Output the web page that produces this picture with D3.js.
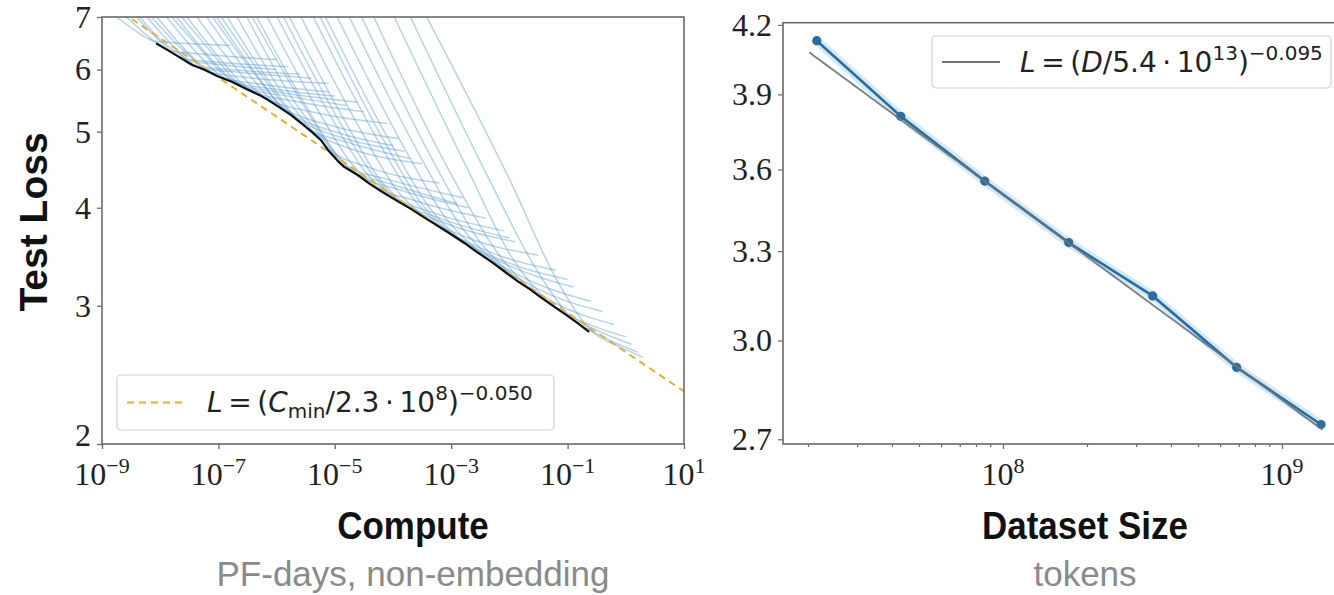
<!DOCTYPE html>
<html>
<head>
<meta charset="utf-8">
<script src="https://cdn.jsdelivr.net/npm/d3@7"></script>
<style>
  html, body { margin: 0; padding: 0; background: #fff; }
  svg { display: block; }
</style>
</head>
<body>
<svg id="chart" width="1334" height="595"></svg>
<script>
// ---------------- data: compute panel ----------------
const computeTickExps = [-9, -7, -5, -3, -1, 1];
const lossTicksLeft = [2, 3, 4, 5, 6, 7];

// lower envelope of all runs (log10 PF-days, test loss)
const frontierLogC = [-8.07, -7.9, -7.7, -7.45, -7.25, -7.0, -6.77, -6.5, -6.3, -6.15, -5.95, -5.75,
  -5.54, -5.4, -5.24, -5.1, -4.95, -4.84, -4.6, -4.4, -4.16, -3.9, -3.7, -3.54, -3.3, -3.05,
  -2.78, -2.55, -2.3, -2.09, -1.85, -1.65, -1.47, -1.25, -1.05, -0.85, -0.63];
const frontierLoss = [6.48, 6.37, 6.24, 6.08, 6.0, 5.88, 5.79, 5.66, 5.57, 5.49, 5.37, 5.25,
  5.10, 5.0, 4.88, 4.72, 4.59, 4.51, 4.40, 4.29, 4.18, 4.07, 3.99, 3.92, 3.82, 3.72,
  3.61, 3.51, 3.41, 3.32, 3.22, 3.15, 3.08, 3.0, 2.93, 2.86, 2.78];

// individual training runs: [log10 PF-days, test loss]
const runs = [
  [[-8.75, 7.0], [-8.425, 6.72], [-8.23, 6.58], [-8.1, 6.52], [-7.6, 6.48], [-6.8, 6.44]],
  [[-8.58, 7.0], [-8.215, 6.62], [-7.99, 6.43], [-7.85, 6.35], [-7.3, 6.28], [-6.0, 6.18]],
  [[-8.41, 7.0], [-8.005, 6.52], [-7.76, 6.29], [-7.6, 6.20], [-7.0, 6.13], [-5.8, 6.05]],
  [[-8.35, 7.0], [-7.95, 6.5], [-7.7, 6.3], [-7.5, 6.16], [-6.9, 6.08], [-6.0, 6.0]],
  [[-8.23, 7.0], [-7.79, 6.44], [-7.53, 6.17], [-7.35, 6.06], [-6.7, 5.99], [-5.6, 5.92]],
  [[-8.15, 7.0], [-7.7, 6.45], [-7.45, 6.2], [-7.25, 6.02], [-6.6, 5.95], [-5.4, 5.85]],
  [[-8.06, 7.0], [-7.58, 6.37], [-7.29, 6.07], [-7.1, 5.95], [-6.5, 5.86], [-5.1, 5.76]],
  [[-7.89, 7.0], [-7.37, 6.30], [-7.06, 5.97], [-6.85, 5.84], [-6.2, 5.74], [-5.1, 5.62]],
  [[-7.8, 7.0], [-7.25, 6.3], [-6.95, 5.95], [-6.7, 5.78], [-6.0, 5.66], [-5.0, 5.55]],
  [[-7.72, 7.0], [-7.16, 6.23], [-6.82, 5.87], [-6.6, 5.73], [-6.0, 5.62], [-4.6, 5.45]],
  [[-7.63, 7.0], [-7.05, 6.22], [-6.72, 5.82], [-6.48, 5.67], [-5.8, 5.55], [-4.8, 5.4]],
  [[-7.54, 7.0], [-6.945, 6.16], [-6.59, 5.76], [-6.35, 5.61], [-5.7, 5.47], [-4.5, 5.30]],
  [[-7.37, 7.0], [-6.735, 6.07], [-6.35, 5.64], [-6.1, 5.48], [-5.4, 5.30], [-4.1, 5.12]],
  [[-7.20, 7.0], [-6.525, 5.98], [-6.12, 5.52], [-5.85, 5.34], [-5.1, 5.10], [-3.9, 4.90]],
  [[-7.1, 7.0], [-6.4, 5.95], [-5.95, 5.42], [-5.7, 5.24], [-5.0, 5.0], [-4.0, 4.8]],
  [[-7.03, 7.0], [-6.315, 5.87], [-5.89, 5.35], [-5.6, 5.16], [-4.9, 4.92], [-3.8, 4.72]],
  [[-6.95, 7.0], [-6.2, 5.82], [-5.78, 5.3], [-5.48, 5.06], [-4.8, 4.85], [-3.7, 4.62]],
  [[-6.85, 7.0], [-6.10, 5.75], [-5.65, 5.19], [-5.35, 4.98], [-4.7, 4.75], [-3.5, 4.55]],
  [[-6.68, 7.0], [-5.89, 5.59], [-5.42, 5.05], [-5.1, 4.75], [-4.4, 4.50], [-3.2, 4.30]],
  [[-6.51, 7.0], [-5.68, 5.44], [-5.18, 4.87], [-4.85, 4.53], [-4.1, 4.35], [-2.8, 4.12]],
  [[-6.42, 7.0], [-5.55, 5.42], [-5.05, 4.75], [-4.75, 4.48], [-4.0, 4.28], [-2.9, 4.05]],
  [[-6.34, 7.0], [-5.47, 5.35], [-4.95, 4.66], [-4.6, 4.41], [-3.9, 4.22], [-2.7, 4.00]],
  [[-6.16, 7.0], [-5.255, 5.27], [-4.71, 4.55], [-4.35, 4.29], [-3.6, 4.08], [-2.4, 3.88]],
  [[-5.99, 7.0], [-5.045, 5.19], [-4.48, 4.45], [-4.1, 4.18], [-3.3, 3.94], [-2.1, 3.74]],
  [[-5.88, 7.0], [-4.9, 5.12], [-4.32, 4.38], [-3.95, 4.11], [-3.2, 3.88], [-2.0, 3.66]],
  [[-5.78, 7.0], [-4.79, 5.10], [-4.2, 4.32], [-3.8, 4.05], [-3.0, 3.80], [-1.9, 3.62]],
  [[-5.58, 7.0], [-4.54, 5.00], [-3.92, 4.20], [-3.5, 3.92], [-2.7, 3.66], [-1.5, 3.48]],
  [[-5.37, 7.0], [-4.285, 4.91], [-3.63, 4.09], [-3.2, 3.80], [-2.4, 3.53], [-1.2, 3.33]],
  [[-5.25, 7.0], [-4.15, 4.86], [-3.48, 4.02], [-3.05, 3.74], [-2.25, 3.46], [-1.0, 3.24]],
  [[-5.16, 7.0], [-4.03, 4.82], [-3.35, 3.98], [-2.9, 3.68], [-2.1, 3.40], [-0.9, 3.17]],
  [[-4.96, 7.0], [-3.78, 4.73], [-3.07, 3.86], [-2.6, 3.56], [-1.8, 3.27], [-0.6, 3.04]],
  [[-4.75, 7.0], [-3.525, 4.64], [-2.79, 3.75], [-2.3, 3.44], [-1.5, 3.15], [-0.4, 2.95]],
  [[-4.54, 7.0], [-3.27, 4.53], [-2.51, 3.62], [-2.0, 3.31], [-1.2, 3.02], [-0.2, 2.84]],
  [[-4.33, 7.0], [-3.015, 4.43], [-2.2, 3.50], [-1.7, 3.18], [-0.9, 2.90], [0.0, 2.74]],
  [[-3.98, 7.0], [-2.7, 4.45], [-1.95, 3.45], [-1.4, 3.07], [-0.7, 2.84], [0.1, 2.68]],
  [[-3.7, 7.0], [-2.35, 4.35], [-1.55, 3.35], [-1.0, 2.93], [-0.4, 2.74], [0.2, 2.62]],
  [[-3.42, 7.0], [-2.0, 4.35], [-1.15, 3.20], [-0.6, 2.79], [-0.1, 2.66], [0.3, 2.58]]
];

// fitted power law L = (C / scale)^(-exponent)
const computeFit = { scale: 2.3e8, exponent: 0.050 };

// ---------------- data: dataset panel ----------------
const datasetTokens = [2.15e7, 4.3e7, 8.6e7, 1.72e8, 3.44e8, 6.88e8, 1.38e9];
const datasetLoss = [4.13, 3.81, 3.556, 3.33, 3.146, 2.915, 2.743];
const lossTicksRight = [2.7, 3.0, 3.3, 3.6, 3.9, 4.2];
const tokenTickExps = [8, 9];
const datasetFit = { scale: 5.4e13, exponent: 0.095 };
const datasetFitRange = [2.02e7, 1.4e9];

// ---------------- drawing ----------------
const svg = d3.select("#chart");
const spine = "#6a6a6a";
const tickFont = "'Liberation Serif', 'DejaVu Serif', serif";
const mathFont = "'DejaVu Sans', sans-serif";
const titleFont = "'Liberation Sans', Arial, sans-serif";

const defs = svg.append("defs");

function powerLabel(g, x, y, exp) {
  const t = g.append("text")
    .attr("x", x).attr("y", y)
    .attr("text-anchor", "middle")
    .attr("font-family", tickFont).attr("font-size", 32).attr("fill", "#222");
  t.append("tspan").text("10");
  t.append("tspan").attr("dy", -12).attr("font-size", 22)
    .text(exp < 0 ? "\u2212" + (-exp) : String(exp));
  return t;
}

// ===== left panel: compute =====
const P1 = { x0: 102, x1: 684, y0: 17, y1: 444 };
const xC = d3.scaleLog().domain([1e-9, 1e1]).range([P1.x0, P1.x1]);
const yL = d3.scaleLog().domain([2, 7]).range([P1.y1, P1.y0]);

defs.append("clipPath").attr("id", "clip1").append("rect")
  .attr("x", P1.x0).attr("y", P1.y0).attr("width", P1.x1 - P1.x0).attr("height", P1.y1 - P1.y0);

const g1 = svg.append("g");
const plot1 = g1.append("g").attr("clip-path", "url(#clip1)");

const runLine = d3.line()
  .x(d => xC(Math.pow(10, d[0])))
  .y(d => yL(d[1]))
  .curve(d3.curveMonotoneX);

plot1.selectAll("path.run").data(runs).join("path")
  .attr("class", "run")
  .attr("d", runLine)
  .attr("fill", "none")
  .attr("stroke", "#4a90d0")
  .attr("stroke-opacity", 0.4)
  .attr("stroke-width", 1.5);

// fitted law, sampled along the full compute range
const fitPts = d3.range(-9, 1.0001, 0.05).map(u =>
  [u, Math.pow(Math.pow(10, u) / computeFit.scale, -computeFit.exponent)]);
const fitLine = d3.line().x(d => xC(Math.pow(10, d[0]))).y(d => yL(d[1]));
plot1.append("path")
  .attr("d", fitLine(fitPts))
  .attr("fill", "none")
  .attr("stroke", "#e8b030")
  .attr("stroke-width", 2)
  .attr("stroke-dasharray", "7,5");

plot1.append("path")
  .attr("d", fitLine(d3.zip(frontierLogC, frontierLoss)))
  .attr("fill", "none")
  .attr("stroke", "#111")
  .attr("stroke-width", 2.2)
  .attr("stroke-linejoin", "round");

// ticks
const axB1 = g1.append("g").attr("transform", `translate(0,${P1.y1})`)
  .call(d3.axisBottom(xC).tickValues(computeTickExps.map(e => Math.pow(10, e))).tickSize(5).tickFormat(""));
const axL1 = g1.append("g").attr("transform", `translate(${P1.x0},0)`)
  .call(d3.axisLeft(yL).tickValues(lossTicksLeft).tickSize(5).tickFormat(""));
[axB1, axL1].forEach(a => {
  a.select(".domain").remove();
  a.selectAll("line").attr("stroke", spine).attr("stroke-width", 1.3);
});

g1.append("rect")
  .attr("x", P1.x0).attr("y", P1.y0)
  .attr("width", P1.x1 - P1.x0).attr("height", P1.y1 - P1.y0)
  .attr("fill", "none").attr("stroke", spine).attr("stroke-width", 1.6);

lossTicksLeft.forEach(v => {
  g1.append("text")
    .attr("x", P1.x0 - 11).attr("y", yL(v) - (v === 2 ? 9 : 0)).attr("dy", "0.34em")
    .attr("text-anchor", "end")
    .attr("font-family", tickFont).attr("font-size", 32).attr("fill", "#222")
    .text(v);
});
computeTickExps.forEach(e => powerLabel(g1, xC(Math.pow(10, e)), 485, e));

// legend
const lg1 = g1.append("g");
lg1.append("rect").attr("x", 117).attr("y", 375).attr("width", 437).attr("height", 55)
  .attr("rx", 4).attr("fill", "#fff").attr("fill-opacity", 0.85)
  .attr("stroke", "#d2d2d2").attr("stroke-width", 1.2);
lg1.append("line").attr("x1", 127).attr("x2", 185).attr("y1", 402.5).attr("y2", 402.5)
  .attr("stroke", "#e8b030").attr("stroke-width", 2).attr("stroke-dasharray", "7,5");
{
  const t = lg1.append("text").attr("x", 207).attr("y", 412)
    .attr("font-family", mathFont).attr("font-size", 28).attr("fill", "#222");
  t.append("tspan").attr("font-style", "italic").text("L");
  t.append("tspan").text("\u2009=\u2009(");
  t.append("tspan").attr("font-style", "italic").text("C");
  t.append("tspan").attr("font-size", 20).attr("dy", 6).text("min");
  t.append("tspan").attr("dy", -6).text("/2.3\u2009\u00b7\u200910");
  t.append("tspan").attr("font-size", 20).attr("dy", -12).text("8");
  t.append("tspan").attr("dy", 12).text(")");
  t.append("tspan").attr("font-size", 20).attr("dy", -12).text("\u22120.050");
}

// axis titles
svg.append("text")
  .attr("transform", "translate(33,222) rotate(-90)")
  .attr("text-anchor", "middle").attr("dy", "0.35em")
  .attr("font-family", titleFont).attr("font-weight", "bold").attr("font-size", 39).attr("fill", "#111")
  .text("Test Loss");

function axisTitle(cx, title, sub) {
  svg.append("text")
    .attr("transform", `translate(${cx},539) scale(0.92,1)`)
    .attr("text-anchor", "middle")
    .attr("font-family", titleFont).attr("font-weight", "bold").attr("font-size", 38).attr("fill", "#111")
    .text(title);
  svg.append("text")
    .attr("transform", `translate(${cx},586)`)
    .attr("text-anchor", "middle")
    .attr("font-family", titleFont).attr("font-size", 35).attr("fill", "#8a8a8a")
    .text(sub);
}
axisTitle(413, "Compute", "PF-days, non-embedding");
axisTitle(1085, "Dataset Size", "tokens");

// ===== right panel: dataset size =====
const P2 = { x0: 783, x1: 1336, y0: 22.7, y1: 444 };
const xD = d3.scaleLog().domain([Math.pow(10, 7.2115), Math.pow(10, 9.1935)]).range([P2.x0, P2.x1]);
const yD = d3.scaleLog().domain([2.6865, 4.21]).range([P2.y1, P2.y0]);

defs.append("clipPath").attr("id", "clip2").append("rect")
  .attr("x", P2.x0).attr("y", P2.y0).attr("width", P2.x1 - P2.x0).attr("height", P2.y1 - P2.y0);

const g2 = svg.append("g");
const plot2 = g2.append("g").attr("clip-path", "url(#clip2)");

const pts = d3.zip(datasetTokens, datasetLoss);
const dLine = d3.line().x(d => xD(d[0])).y(d => yD(d[1]));

plot2.append("path").attr("d", dLine(pts))
  .attr("fill", "none").attr("stroke", "#bfe0f6").attr("stroke-width", 9)
  .attr("stroke-opacity", 0.7).attr("stroke-linejoin", "round");
plot2.append("path").attr("d", dLine(pts))
  .attr("fill", "none").attr("stroke", "#2a6d9e").attr("stroke-width", 2.6);
plot2.selectAll("circle.pt").data(pts).join("circle")
  .attr("class", "pt")
  .attr("cx", d => xD(d[0])).attr("cy", d => yD(d[1])).attr("r", 4.6)
  .attr("fill", "#2a6d9e");

const dFitPts = d3.range(Math.log10(datasetFitRange[0]), Math.log10(datasetFitRange[1]) + 1e-9, 0.02)
  .map(u => [Math.pow(10, u), Math.pow(Math.pow(10, u) / datasetFit.scale, -datasetFit.exponent)]);
plot2.append("path").attr("d", dLine(dFitPts))
  .attr("fill", "none").attr("stroke", "#6f7478").attr("stroke-width", 1.9).attr("stroke-opacity", 0.9);

// ticks
const majorTok = tokenTickExps.map(e => Math.pow(10, e));
const minorTok = [];
[7, 8].forEach(e => d3.range(2, 10).forEach(m => {
  const v = m * Math.pow(10, e);
  if (v > xD.domain()[0] && v < xD.domain()[1]) minorTok.push(v);
}));
const axB2 = g2.append("g").attr("transform", `translate(0,${P2.y1})`)
  .call(d3.axisBottom(xD).tickValues(majorTok).tickSize(5).tickFormat(""));
const axB2m = g2.append("g").attr("transform", `translate(0,${P2.y1})`)
  .call(d3.axisBottom(xD).tickValues(minorTok).tickSize(3).tickFormat(""));
const axL2 = g2.append("g").attr("transform", `translate(${P2.x0},0)`)
  .call(d3.axisLeft(yD).tickValues(lossTicksRight).tickSize(5).tickFormat(""));
[axB2, axB2m, axL2].forEach(a => {
  a.select(".domain").remove();
  a.selectAll("line").attr("stroke", spine).attr("stroke-width", 1.2);
});

g2.append("rect")
  .attr("x", P2.x0).attr("y", P2.y0)
  .attr("width", P2.x1 - P2.x0).attr("height", P2.y1 - P2.y0)
  .attr("fill", "none").attr("stroke", spine).attr("stroke-width", 1.6);

lossTicksRight.forEach(v => {
  g2.append("text")
    .attr("x", P2.x0 - 11).attr("y", yD(v)).attr("dy", "0.34em")
    .attr("text-anchor", "end")
    .attr("font-family", tickFont).attr("font-size", 32).attr("fill", "#222")
    .text(d3.format(".1f")(v));
});
tokenTickExps.forEach(e => powerLabel(g2, xD(Math.pow(10, e)), 485, e));

// legend
const lg2 = g2.append("g");
lg2.append("rect").attr("x", 932).attr("y", 36).attr("width", 399).attr("height", 52)
  .attr("rx", 4).attr("fill", "#fff").attr("fill-opacity", 0.85)
  .attr("stroke", "#d2d2d2").attr("stroke-width", 1.2);
lg2.append("line").attr("x1", 942).attr("x2", 1000).attr("y1", 62).attr("y2", 62)
  .attr("stroke", "#6f7478").attr("stroke-width", 1.9);
{
  const t = lg2.append("text").attr("x", 1020).attr("y", 72)
    .attr("font-family", mathFont).attr("font-size", 28).attr("fill", "#222");
  t.append("tspan").attr("font-style", "italic").text("L");
  t.append("tspan").text("\u2009=\u2009(");
  t.append("tspan").attr("font-style", "italic").text("D");
  t.append("tspan").text("/5.4\u2009\u00b7\u200910");
  t.append("tspan").attr("font-size", 20).attr("dy", -12).text("13");
  t.append("tspan").attr("dy", 12).text(")");
  t.append("tspan").attr("font-size", 20).attr("dy", -12).text("\u22120.095");
}
</script>
</body>
</html>
